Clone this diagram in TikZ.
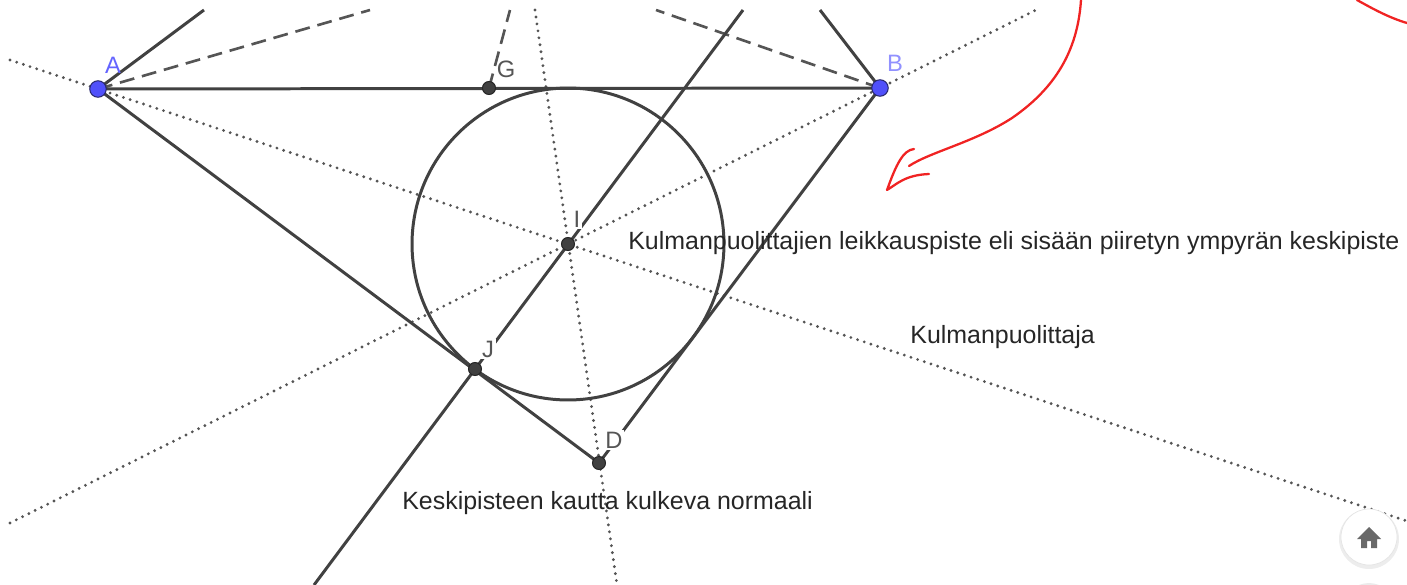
\documentclass[tikz,border=0pt]{standalone}
\usepackage{fontspec}
\setmainfont{Liberation Sans}
\usepackage{tikz}
\definecolor{ggline}{RGB}{65,65,65}
\definecolor{gggray}{RGB}{85,85,85}
\definecolor{ggblue}{RGB}{80,80,250}
\definecolor{ggbluedark}{RGB}{40,40,110}
\definecolor{gglabA}{RGB}{100,100,255}
\definecolor{gglabB}{RGB}{145,145,255}
\definecolor{ggdark}{RGB}{64,64,64}
\definecolor{gglabel}{RGB}{85,85,85}
\definecolor{ggtext}{RGB}{38,38,38}
\definecolor{penred}{RGB}{240,35,35}
\definecolor{homegray}{RGB}{105,105,105}

\begin{document}
\begin{tikzpicture}[x=0.02cm, y=-0.02cm, font=\fontsize{14.2}{17}\selectfont,
  seg/.style={ggline, line width=1.7pt},
  dotline/.style={gggray, line width=1.8pt, dash pattern=on 0pt off 4pt, line cap=round},
  dashline/.style={gggray, line width=1.5pt, dash pattern=on 8.5pt off 4.5pt},
  ptblue/.style={circle, fill=ggblue, draw=ggbluedark, line width=0.6pt, minimum size=0.33cm, inner sep=0},
  ptdark/.style={circle, fill=ggdark, draw=black!85, line width=0.6pt, minimum size=0.26cm, inner sep=0},
  lbl/.style={text=gglabel, font=\fontsize{13.5}{15}\selectfont, inner sep=1pt},
  pen/.style={penred, line width=1.3pt, line cap=round, line join=round}]
  \useasboundingbox (0,0) rectangle (1407,585);

  \coordinate (A) at (98,89);
  \coordinate (B) at (880,88);
  \coordinate (G) at (489,88);
  \coordinate (I) at (568,244);
  \coordinate (J) at (475,369);
  \coordinate (D) at (599,463);
  % ends of the lines at the edge of the view
  \coordinate (aTop) at (204,10);
  \coordinate (bTop) at (820,10);
  \coordinate (aDash) at (370,10);
  \coordinate (bDash) at (656,10);
  \coordinate (gDash) at (510,10);
  \coordinate (nTop) at (743,10);
  \coordinate (nBot) at (314,585);
  \coordinate (aiW) at (10,60);
  \coordinate (aiE) at (1407,521);
  \coordinate (biW) at (10,523);
  \coordinate (biE) at (1036,10);
  \coordinate (idN) at (535,10);
  \coordinate (idS) at (617,585);

  \draw[dotline] (aiW) -- (aiE);
  \draw[dotline] (biW) -- (biE);
  \draw[dotline] (idN) -- (idS);
  \draw[dashline] (A) -- (aDash);
  \draw[dashline] (B) -- (bDash);
  \draw[dashline] (G) -- (gDash);
  \draw[seg] (aTop) -- (A) -- (B) -- (bTop);
  \draw[seg] (A) -- (D) -- (B);
  \draw[seg] (nBot) -- (nTop);
  \draw[seg] (I) circle[radius=3.12cm];

  \node[anchor=base west, inner sep=0, text=ggtext] (tInc) at (628,249)
    {Kulmanpuolittajien leikkauspiste eli sisään piiretyn ympyrän keskipiste};
  \node[anchor=base west, inner sep=0, text=ggtext] (tBis) at (910,343) {Kulmanpuolittaja};
  \node[anchor=base west, inner sep=0, text=ggtext] (tNorm) at (402,509) {Keskipisteen kautta kulkeva normaali};

  \node[lbl, text=gglabA] (lA) at (113,65) {A};
  \node[lbl, text=gglabB] (lB) at (895,63) {B};
  \node[lbl] (lG) at (506,69) {G};
  \node[lbl, fill=white] (lI) at (577,219) {I};
  \node[lbl, fill=white] (lJ) at (488,349) {J};
  \node[lbl, fill=white] (lD) at (614,440) {D};

  \node[ptblue] (pA) at (A) {};
  \node[ptblue] (pB) at (B) {};
  \node[ptdark] (pG) at (G) {};
  \node[ptdark] (pI) at (I) {};
  \node[ptdark] (pJ) at (J) {};
  \node[ptdark] (pD) at (D) {};

  % hand drawn arrow
  \draw[pen] (1081,0) .. controls (1078,45) and (1060,85) .. (1012,118)
    .. controls (975,142) and (930,152) .. (909,166);
  \draw[pen] (914,149) .. controls (903,150) and (896,165) .. (887,190)
    .. controls (897,184) and (905,175) .. (929,174);
  \draw[pen] (1357,0) .. controls (1375,10) and (1390,18) .. (1407,23);

  % home button
  \fill[black!7] (1369,539) circle[radius=0.6cm];
  \filldraw[fill=white, draw=black!10] (1369,537) circle[radius=0.56cm];
  \fill[homegray] (1357,539) -- (1369,527) -- (1381,539) -- (1377,539) -- (1377,548)
    -- (1371,548) -- (1371,541) -- (1367,541) -- (1367,548) -- (1361,548) -- (1361,539) -- cycle;
  \draw[black!8, line width=1pt] (1369,612) circle[radius=0.56cm];
\end{tikzpicture}
\end{document}
